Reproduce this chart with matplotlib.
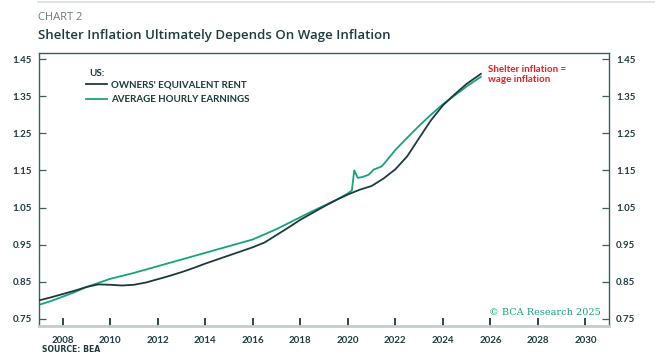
import matplotlib
matplotlib.use("Agg")
import matplotlib.pyplot as plt
from matplotlib.lines import Line2D

# ---- data ----
oer_years = [2007.0, 2007.5, 2008.0, 2008.5, 2009.0, 2009.5, 2010.0, 2010.5, 2011.0,
             2011.5, 2012.0, 2012.5, 2013.0, 2013.5, 2014.0, 2014.5, 2015.0, 2015.5,
             2016.0, 2016.5, 2017.0, 2017.5, 2018.0, 2018.5, 2019.0, 2019.5, 2020.0,
             2020.5, 2021.0, 2021.5, 2022.0, 2022.5, 2023.0, 2023.5, 2024.0, 2024.5,
             2025.0, 2025.6]
oer_values = [0.800, 0.808, 0.817, 0.826, 0.836, 0.843, 0.842, 0.840, 0.842,
              0.848, 0.857, 0.866, 0.876, 0.887, 0.899, 0.910, 0.921, 0.932,
              0.943, 0.956, 0.976, 0.996, 1.017, 1.035, 1.053, 1.070, 1.085,
              1.098, 1.108, 1.128, 1.153, 1.188, 1.237, 1.285, 1.325, 1.355,
              1.383, 1.410]

ahe_years = [2007.0, 2007.5, 2008.0, 2008.5, 2009.0, 2009.5, 2010.0, 2010.5, 2011.0,
             2011.5, 2012.0, 2012.5, 2013.0, 2013.5, 2014.0, 2014.5, 2015.0, 2015.5,
             2016.0, 2016.5, 2017.0, 2017.5, 2018.0, 2018.5, 2019.0, 2019.5, 2020.0,
             2020.17, 2020.27, 2020.42, 2020.6, 2020.87, 2021.0, 2021.08, 2021.4,
             2021.5, 2022.0, 2022.5, 2023.0, 2023.5, 2024.0, 2024.5, 2025.0, 2025.6]
ahe_values = [0.788, 0.798, 0.810, 0.822, 0.836, 0.847, 0.858, 0.866, 0.874,
              0.883, 0.892, 0.901, 0.910, 0.919, 0.928, 0.937, 0.946, 0.955,
              0.964, 0.978, 0.992, 1.008, 1.024, 1.040, 1.055, 1.070, 1.088,
              1.096, 1.150, 1.130, 1.132, 1.138, 1.146, 1.152, 1.160,
              1.166, 1.205, 1.238, 1.270, 1.300, 1.328, 1.352, 1.376, 1.402]

series_labels = ["OWNERS' EQUIVALENT RENT", "AVERAGE HOURLY EARNINGS"]
x_ticks = [2008, 2010, 2012, 2014, 2016, 2018, 2020, 2022, 2024, 2026, 2028, 2030]
y_ticks = [0.75, 0.85, 0.95, 1.05, 1.15, 1.25, 1.35, 1.45]

DARK = "#1b3a3e"
GREEN = "#16a37c"
SPINE = "#3d5d61"
LABEL = "#1e3b40"

fig = plt.figure(figsize=(6.55, 3.61), dpi=100)
ax = fig.add_axes([0.0595, 0.097, 0.8705, 0.756])

ax.plot(oer_years, oer_values, color=DARK, lw=1.3, zorder=3)
ax.plot(ahe_years, ahe_values, color=GREEN, lw=1.3, zorder=2)

ax.set_xlim(2007, 2031)
ax.set_ylim(0.731, 1.466)

ax.set_xticks(x_ticks)
ax.set_xticklabels([str(t) for t in x_ticks])
ax.set_yticks(y_ticks)
ax.set_yticklabels([f"{t:.2f}" for t in y_ticks])

ax.tick_params(axis="x", direction="in", length=6, width=1.3, color=DARK, pad=7)
ax.tick_params(axis="y", direction="in", length=5, width=0.9, color=SPINE,
               left=True, right=True, labelleft=True, labelright=True, pad=5)

for tick in ax.xaxis.get_major_ticks() + ax.yaxis.get_major_ticks():
    for lab in (tick.label1, tick.label2):
        lab.set_fontfamily("Lato")
        lab.set_fontweight("bold")
        lab.set_fontsize(7)
        lab.set_color(LABEL)

for side in ["left", "right", "top"]:
    ax.spines[side].set_color(SPINE)
    ax.spines[side].set_linewidth(1.0)
ax.spines["bottom"].set_color("#c3cdcd")
ax.spines["bottom"].set_linewidth(2.0)

# legend
ax.text(0.089, 0.924, "US:", transform=ax.transAxes, fontsize=7, fontweight="bold",
        family="Lato", color=DARK, va="center")
handles = [Line2D([], [], color=DARK, lw=1.3), Line2D([], [], color=GREEN, lw=1.3)]
leg = ax.legend(handles, series_labels, loc="upper left", bbox_to_anchor=(0.083, 0.900),
                frameon=False, handlelength=2.1, handletextpad=0.45, labelspacing=0.62,
                prop=dict(family="Lato", weight="bold", size=7), borderaxespad=0,
                borderpad=0)
for t in leg.get_texts():
    t.set_color(DARK)

# annotation
ax.text(0.788, 0.958, "Shelter inflation =\nwage inflation", transform=ax.transAxes,
        color="#ee1c1c", fontsize=7, fontweight="bold", family="Lato",
        va="top", ha="left", linespacing=1.15)

ax.text(0.985, 0.051, "© BCA Research 2025", transform=ax.transAxes, color=GREEN,
        fontsize=7, family="DejaVu Serif", ha="right", va="center")

# header
fig.add_artist(Line2D([38 / 655, 1.0], [1 - 1.5 / 361, 1 - 1.5 / 361],
                      transform=fig.transFigure, color="#d9dede", lw=1.2))
fig.text(38 / 655, 1 - 18 / 361, "CHART 2", fontsize=8, color="#6d7a7c",
         family="Open Sans", va="center")
fig.text(38 / 655, 1 - 36 / 361, "Shelter Inflation Ultimately Depends On Wage Inflation",
         fontsize=9.5, color=LABEL, family="Open Sans", fontweight="semibold",
         va="center")
fig.text(42 / 655, 1 - 350 / 361, "SOURCE: BEA", fontsize=5.6, color=LABEL,
         family="DejaVu Sans", fontweight="bold", va="center")

fig.savefig("out.png", dpi=100, facecolor="white")
